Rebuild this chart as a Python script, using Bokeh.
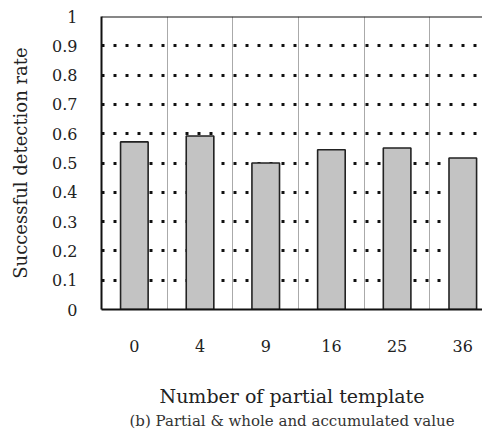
from bokeh.plotting import figure
from bokeh.models import ColumnDataSource, FixedTicker, Span, Title, Range1d
from bokeh.embed import file_html
from bokeh.resources import INLINE

categories = ["0", "4", "9", "16", "25", "36"]
rates = [0.572, 0.592, 0.500, 0.545, 0.551, 0.517]
y_ticks = [0, 0.1, 0.2, 0.3, 0.4, 0.5, 0.6, 0.7, 0.8, 0.9, 1]
y_tick_labels = ["0", "0.1", "0.2", "0.3", "0.4", "0.5", "0.6", "0.7", "0.8", "0.9", "1"]

xs = list(range(len(categories)))
src = ColumnDataSource(dict(x=xs, top=rates, cat=categories))

FONT = "DejaVu Serif"

p = figure(width=482, height=429, output_backend="svg", toolbar_location=None,
           x_range=Range1d(-0.5, 5.3), y_range=Range1d(0, 1),
           min_border_left=101, min_border_top=16, min_border_right=0, min_border_bottom=20)
p.outline_line_color = None
p.background_fill_color = "white"

p.vbar(x="x", top="top", width=0.42, source=src, fill_color="#c3c3c3",
       line_color="#222222", line_width=1.6)

# axes
p.xaxis.ticker = FixedTicker(ticks=xs)
p.xaxis.major_label_overrides = {i: c for i, c in zip(xs, categories)}
p.yaxis.ticker = FixedTicker(ticks=y_ticks)
p.yaxis.major_label_overrides = {t: l for t, l in zip(y_ticks, y_tick_labels)}

for ax in (p.xaxis[0], p.yaxis[0]):
    ax.major_tick_line_color = None
    ax.minor_tick_line_color = None
    ax.axis_line_color = "#111111"
    ax.axis_line_width = 2
    ax.major_label_text_font = FONT
    ax.major_label_text_font_size = "16px"
    ax.major_label_text_color = "#222222"
    ax.axis_label_text_font = FONT
    ax.axis_label_text_font_style = "normal"
    ax.axis_label_text_color = "#222222"

p.yaxis.axis_label = "Successful detection rate"
p.yaxis.axis_label_text_font_size = "18px"
p.yaxis.major_label_standoff = 18
p.yaxis.axis_label_standoff = 18

p.xaxis.axis_label = "Number of partial template"
p.xaxis.axis_label_text_font_size = "19px"
p.xaxis.major_label_standoff = 24
p.xaxis.axis_label_standoff = 30

# grids
p.ygrid.ticker = FixedTicker(ticks=y_ticks[1:-1])
p.ygrid.grid_line_color = "#111111"
p.ygrid.grid_line_width = 3
p.ygrid.grid_line_dash = "3 9"
p.xgrid.ticker = FixedTicker(ticks=[x + 0.5 for x in xs[:-1]])
p.xgrid.grid_line_color = "#aaaaaa"
p.xgrid.grid_line_width = 1

p.add_layout(Span(location=1, dimension="width", line_color="#111111", line_width=2))

cap = Title(text="(b) Partial & whole and accumulated value", align="center",
            text_font=FONT, text_font_size="15px", text_font_style="normal",
            text_color="#333333", offset=0, standoff=0)
p.add_layout(cap, "below")

open("out.html", "w").write(file_html(p, INLINE))
